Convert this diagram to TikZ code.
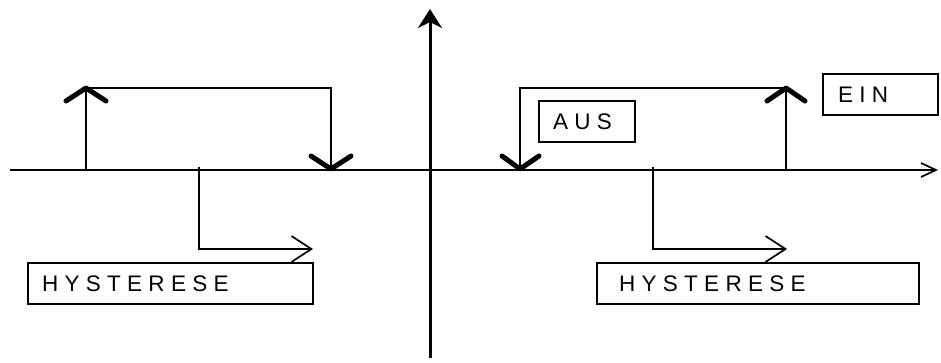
\documentclass[tikz,border=0pt]{standalone}
\usepackage{fontspec}
\setmainfont{Liberation Sans}
\newfontfamily\spaced[LetterSpace=28]{Liberation Sans}
\usetikzlibrary{arrows.meta}
\begin{document}
\begin{tikzpicture}[x=1pt,y=-1pt,
  ln/.style={line width=1.7pt},
  chev/.style={line width=5pt, line cap=round, line join=round},
  box/.style={draw, line width=1.7pt, rectangle, inner ysep=0pt, align=left,
    minimum height=41pt, font=\spaced\fontsize{22.5}{26}\selectfont},
  barb/.style={-{Straight Barb[length=20pt,width=26pt]}}
  ]
\useasboundingbox (0,0) rectangle (941,362);
% axes
\coordinate (xl) at (10,170);
\coordinate (xr) at (938,170);
\coordinate (yb) at (430,358);
\coordinate (yt) at (430,9);
\draw[ln, -{Straight Barb[length=15pt,width=14pt]}] (xl) -- (xr);
\draw[line width=3pt, -{Stealth[length=19pt,width=24pt,inset=6pt]}] (yb) -- (yt);
% left loop
\coordinate (la) at (86,170);
\coordinate (lb) at (86,88);
\coordinate (lc) at (331,88);
\coordinate (ld) at (331,170);
\draw[ln] (la) -- (lb) -- (lc) -- (ld);
\draw[chev] (66,101) -- (86,88) -- (106,101);
\draw[chev] (311,156) -- (331,169) -- (351,156);
% right loop
\coordinate (ra) at (520,170);
\coordinate (rb) at (520,88);
\coordinate (rc) at (786,88);
\coordinate (rd) at (786,170);
\draw[ln] (ra) -- (rb) -- (rc) -- (rd);
\draw[chev] (502,156) -- (520,169) -- (539,156);
\draw[chev] (767,101) -- (786,88) -- (805,101);
% hysteresis arrows
\coordinate (h1a) at (199,167);
\coordinate (h1b) at (199,249);
\coordinate (h1c) at (313,249);
\draw[ln, barb] (h1a) -- (h1b) -- (h1c);
\coordinate (h2a) at (653,167);
\coordinate (h2b) at (653,249);
\coordinate (h2c) at (787,249);
\draw[ln, barb] (h2a) -- (h2b) -- (h2c);
% boxes
\node[box, inner xsep=14pt, text width=257pt] (hys1) at (170.5,283.5) {HYSTERESE};
\node[box, inner xsep=22pt, text width=278pt] (hys2) at (758,283.5) {HYSTERESE};
\node[box, inner xsep=14pt, text width=68pt] (aus) at (587,121.5) {AUS};
\node[box, inner xsep=15pt, text width=85pt] (ein) at (880.5,94.5) {EIN};
\end{tikzpicture}
\end{document}
